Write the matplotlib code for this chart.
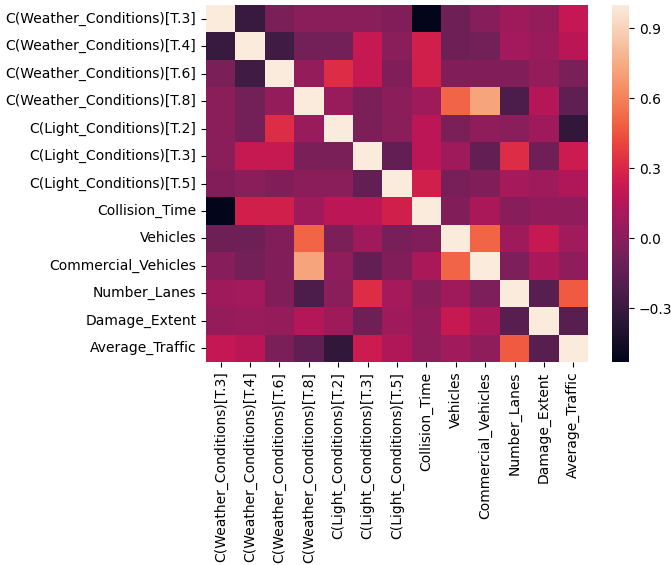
import matplotlib
matplotlib.use("Agg")
import matplotlib.pyplot as plt
import seaborn as sns
import numpy as np
import pandas as pd

labels = ["C(Weather_Conditions)[T.3]", "C(Weather_Conditions)[T.4]",
          "C(Weather_Conditions)[T.6]", "C(Weather_Conditions)[T.8]",
          "C(Light_Conditions)[T.2]", "C(Light_Conditions)[T.3]",
          "C(Light_Conditions)[T.5]", "Collision_Time", "Vehicles",
          "Commercial_Vehicles", "Number_Lanes", "Damage_Extent", "Average_Traffic"]

corr = [
    [1.00, -0.30, -0.05, 0.00, 0.00, 0.00, -0.03, -0.53, -0.10, -0.01, 0.07, 0.04, 0.21],
    [-0.30, 1.00, -0.27, -0.08, -0.08, 0.22, 0.00, 0.26, -0.10, -0.08, 0.09, 0.06, 0.17],
    [-0.05, -0.27, 1.00, 0.04, 0.32, 0.22, -0.03, 0.26, -0.03, -0.03, -0.03, 0.04, -0.05],
    [0.00, -0.08, 0.04, 1.00, 0.05, -0.05, 0.01, 0.07, 0.50, 0.72, -0.22, 0.15, -0.15],
    [0.00, -0.08, 0.32, 0.05, 1.00, -0.05, 0.00, 0.18, -0.05, 0.02, 0.00, 0.07, -0.33],
    [0.00, 0.22, 0.22, -0.05, -0.05, 1.00, -0.14, 0.18, 0.07, -0.14, 0.32, -0.10, 0.24],
    [-0.03, 0.00, -0.03, 0.01, 0.00, -0.14, 1.00, 0.26, -0.06, -0.03, 0.10, 0.07, 0.13],
    [-0.53, 0.26, 0.26, 0.07, 0.18, 0.18, 0.26, 1.00, -0.03, 0.11, -0.01, 0.03, 0.02],
    [-0.10, -0.10, -0.03, 0.50, -0.05, 0.07, -0.06, -0.03, 1.00, 0.50, 0.07, 0.22, 0.08],
    [-0.01, -0.08, -0.03, 0.72, 0.02, -0.14, -0.03, 0.11, 0.50, 1.00, -0.04, 0.11, 0.02],
    [0.07, 0.09, -0.03, -0.22, 0.00, 0.32, 0.10, -0.01, 0.07, -0.04, 1.00, -0.18, 0.47],
    [0.04, 0.06, 0.04, 0.15, 0.07, -0.10, 0.07, 0.03, 0.22, 0.11, -0.18, 1.00, -0.18],
    [0.21, 0.17, -0.05, -0.15, -0.33, 0.24, 0.13, 0.02, 0.08, 0.02, 0.47, -0.18, 1.00],
]

cbar_ticks = [-0.3, 0.0, 0.3, 0.6, 0.9]

df = pd.DataFrame(np.array(corr), index=labels, columns=labels)

fig = plt.figure(figsize=(6.71, 5.65), dpi=100)
W, H = 671, 565
ax = fig.add_axes([206 / W, (H - 362) / H, 382 / W, 357 / H])
cax = fig.add_axes([612 / W, (H - 362) / H, 17 / W, 357 / H])
sns.heatmap(df, ax=ax, cbar_ax=cax, cbar_kws={"ticks": cbar_ticks})
ax.tick_params(labelsize=10)
cax.tick_params(labelsize=10)
cax.set_yticklabels(["\u22120.3", "0.0", "0.3", "0.6", "0.9"])
for s in cax.spines.values():
    s.set_visible(False)
fig.savefig("out.png", dpi=100)
